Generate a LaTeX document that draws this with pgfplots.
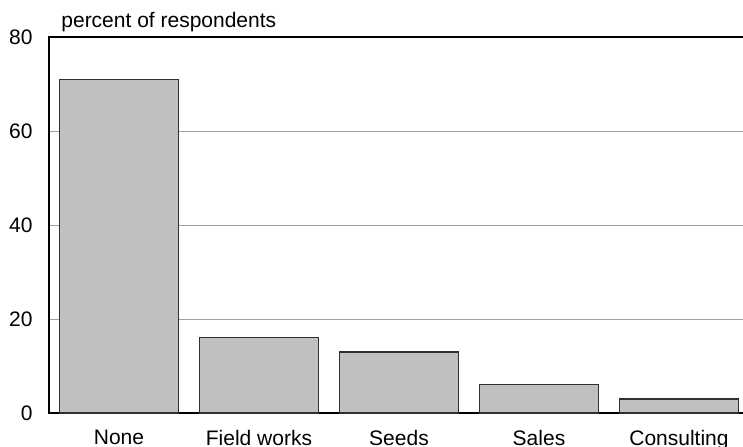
\documentclass[border=0pt]{standalone}
\usepackage{pgfplots}
\pgfplotsset{compat=1.18}
\usepackage{fontspec}
\setmainfont{Liberation Sans}
\definecolor{barfill}{HTML}{C0C0C0}
\definecolor{baredge}{HTML}{303030}
\begin{document}
\fontsize{10.5pt}{12.5pt}\selectfont
\begin{tikzpicture}[x=1pt,y=1pt]
\clip (0,0) rectangle (371.5,223);
\begin{axis}[
  at={(24.5pt,16.5pt)}, anchor=south west,
  scale only axis, width=350pt, height=188pt,
  xmin=-0.5, xmax=4.5, ymin=0, ymax=80,
  xtick={0,1,2,3,4},
  xticklabels={None,Field works,Seeds,Sales,Consulting},
  ytick={0,20,40,60,80},
  ymajorgrids,
  grid style={gray!75, line width=0.4pt},
  major tick length=0pt,
  axis line style={black, line width=0.65pt},
  tick label style={font=\fontsize{10.5pt}{12.5pt}\selectfont},
  /pgf/number format/assume math mode=true,
  yticklabel style={inner sep=0pt, xshift=-8pt},
  xticklabel style={inner sep=0pt, yshift=-8.5pt},
]
\addplot[ybar, bar width=59.5pt, fill=barfill, draw=baredge, line width=0.6pt]
  coordinates {(0,71) (1,16) (2,13) (3,6) (4,3)};
\end{axis}
\node[anchor=base west, inner sep=0pt] at (30.5,209.5) {percent of respondents};
\end{tikzpicture}
\end{document}
